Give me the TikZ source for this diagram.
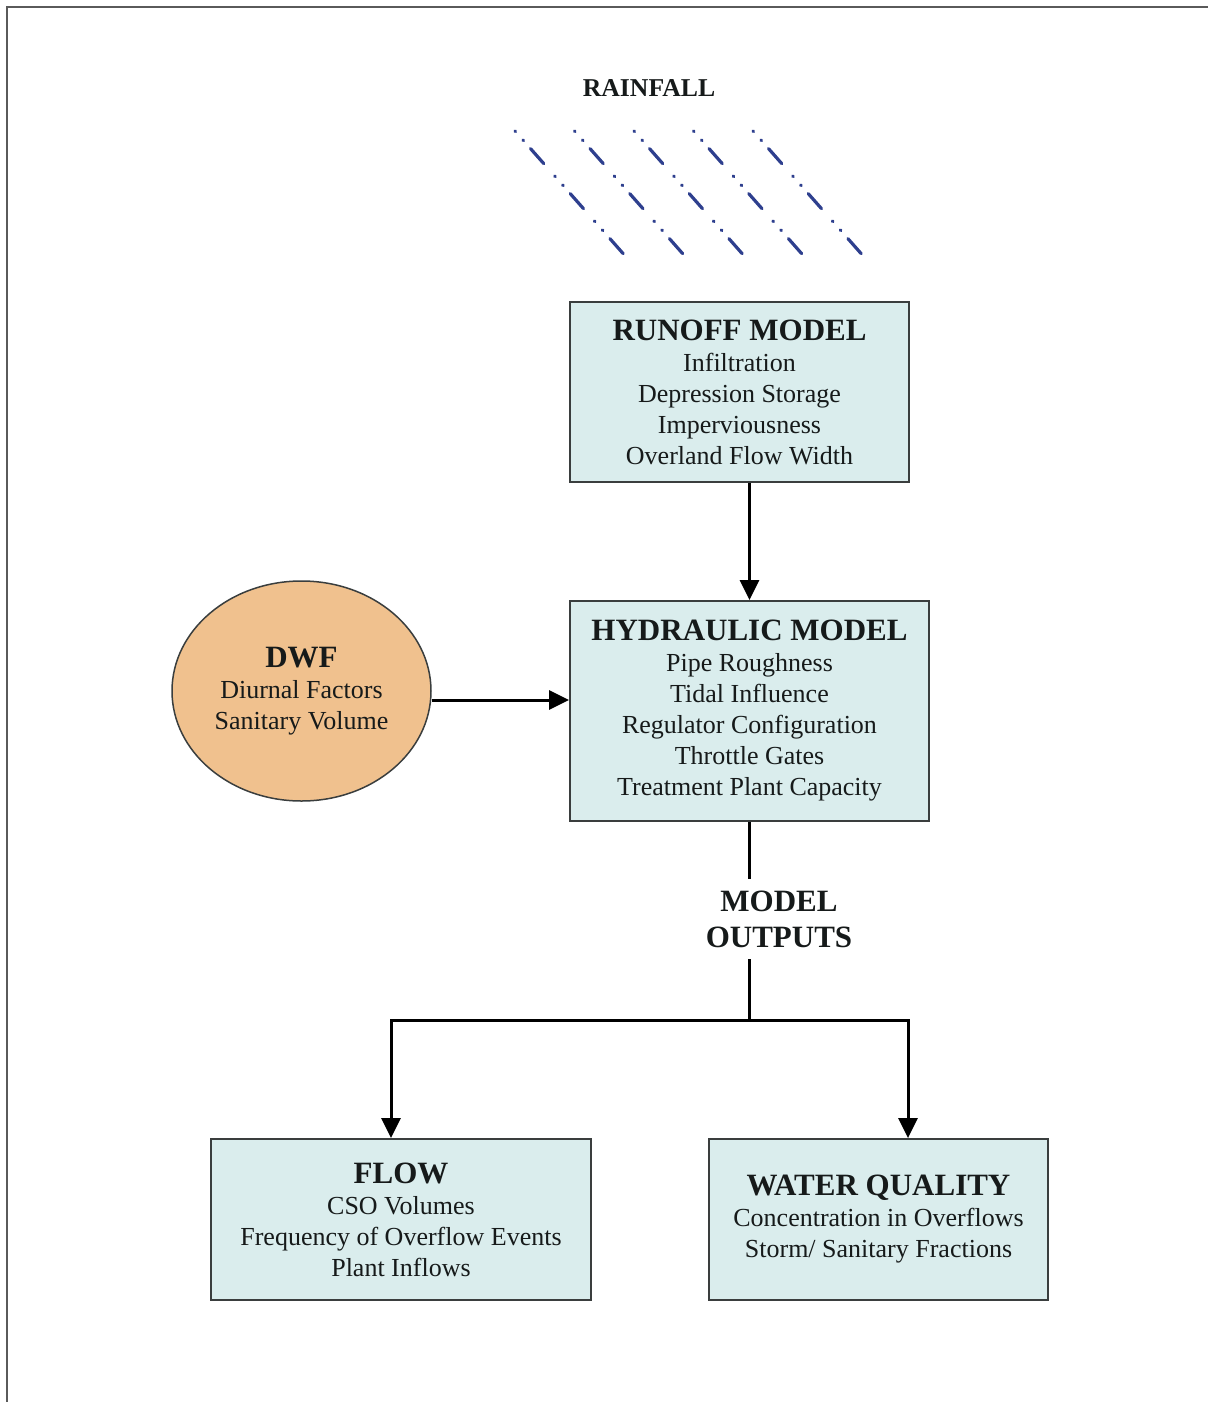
\documentclass[tikz,border=0pt]{standalone}
\usepackage{fontspec}
\setmainfont{Liberation Serif}
\usetikzlibrary{arrows.meta,shapes.geometric}

\definecolor{boxfill}{HTML}{DAEDED}
\definecolor{boxline}{HTML}{3A3E3E}
\definecolor{dwffill}{HTML}{F0C18E}
\definecolor{rain}{HTML}{2E3F8E}
\definecolor{ink}{HTML}{161A1A}
\definecolor{frame}{HTML}{5A5A5A}

\tikzset{
  modelbox/.style={draw=boxline, line width=1.8pt, fill=boxfill, align=center,
    inner sep=0pt, text=ink, font=\fontsize{26}{31}\selectfont},
  dwfnode/.style={ellipse, draw=boxline, line width=1.5pt, fill=dwffill, align=center,
    inner sep=0pt, text=ink, font=\fontsize{26}{31}\selectfont},
  conn/.style={line width=3pt, draw=black},
  arr/.style={conn, -{Triangle[length=20pt,width=19pt]}},
  rainline/.style={rain, line width=3.2pt, line cap=round,
    dash pattern=on 0.8pt off 11.2pt on 0.8pt off 10.7pt on 20pt off 16.5pt}
}
\newcommand{\boxtitle}[1]{{\fontsize{31}{31}\selectfont\bfseries #1}}

\begin{document}
\begin{tikzpicture}[x=1pt, y=-1pt]
  \useasboundingbox (0,0) rectangle (1208,1402);
  \fill[white] (0,0) rectangle (1208,1402);

  % page frame (top and left rules)
  \draw[frame, line width=2.5pt] (7,1402) -- (7,7) -- (1208,7);

  % rainfall
  \node[text=ink, font=\fontsize{25.7}{26}\selectfont\bfseries] (rainlbl) at (649,88) {RAINFALL};
  \foreach \k in {0,...,4} {
    \coordinate (rs\k) at (515+59.5*\k,131);
    \draw[rainline] (rs\k) -- ++(112,127);
  }

  % model boxes
  \node[modelbox, minimum width=339pt, minimum height=180pt] (runoff) at (739.5,392)
    {\boxtitle{RUNOFF MODEL}\\Infiltration\\Depression Storage\\Imperviousness\\Overland Flow Width};

  \node[modelbox, minimum width=359pt, minimum height=220pt] (hyd) at (749.5,711)
    {\boxtitle{HYDRAULIC MODEL}\\Pipe Roughness\\Tidal Influence\\Regulator Configuration\\Throttle Gates\\Treatment Plant Capacity};

  \node[dwfnode, minimum width=259pt, minimum height=220pt] (dwf) at (301.5,691)
    {\boxtitle{DWF}\\Diurnal Factors\\Sanitary Volume};

  \node[modelbox, minimum width=380pt, minimum height=161pt] (flow) at (401,1219.5)
    {\boxtitle{FLOW}\\CSO Volumes\\Frequency of Overflow Events\\Plant Inflows};

  \node[modelbox, minimum width=339pt, minimum height=161pt] (wq) at (878.5,1219.5)
    {\boxtitle{WATER QUALITY}\\Concentration in Overflows\\Storm/ Sanitary Fractions};

  \node[align=center, inner sep=0pt, minimum height=80pt, text=ink,
        font=\fontsize{31}{36}\selectfont\bfseries] (out) at (779,919) {MODEL\\OUTPUTS};

  % connectors
  \coordinate (split) at (749.5,1020);
  \coordinate (fl) at (391,1020);
  \coordinate (fr) at (908,1020);

  \draw[arr] (hyd.north |- runoff.south) -- (hyd.north);
  \draw[arr] (dwf.east |- 0,700) -- (hyd.west |- 0,700);
  \draw[conn] (hyd.south) -- (hyd.south |- out.north);
  \draw[conn] (hyd.south |- out.south) -- (split);
  \draw[arr, line join=miter] (split) -- (fl) -- (fl |- flow.north);
  \draw[arr, line join=miter] (split) -- (fr) -- (fr |- wq.north);
\end{tikzpicture}
\end{document}
